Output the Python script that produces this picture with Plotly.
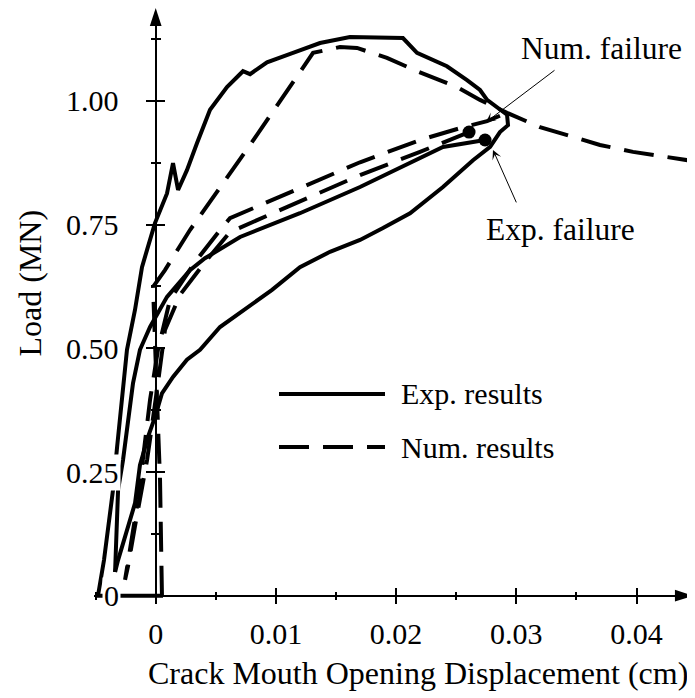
import plotly.graph_objects as go

# ---- data (CMOD in cm, load in MN) ----
# experimental: envelope, post-peak and unloading branch
exp_env_x = [0.00061, -0.00480, -0.00430, -0.00380, -0.00355, -0.00321, -0.00280, -0.00239,
             -0.00172, -0.00114, -0.00072, -0.00006, 0.00094, 0.00144, 0.00186, 0.00260,
             0.00344, 0.00452, 0.00593, 0.00726, 0.00785, 0.00926, 0.01142, 0.01367,
             0.01616, 0.01891, 0.02057, 0.02174, 0.02307, 0.02423, 0.02590, 0.02698,
             0.02757, 0.02864, 0.02923, 0.02931, 0.02864, 0.02782, 0.02640, 0.02390,
             0.02116, 0.01891, 0.01700, 0.01450, 0.01200, 0.00968, 0.00785, 0.00535,
             0.00369, 0.00260, 0.00144, 0.00052, -0.00006, -0.00064, -0.00131, -0.00172,
             -0.00313, -0.00338]
exp_env_y = [0.0, 0.0, 0.072, 0.173, 0.214, 0.301, 0.396, 0.497,
             0.578, 0.664, 0.699, 0.753, 0.813, 0.874, 0.820, 0.860,
             0.915, 0.982, 1.028, 1.060, 1.054, 1.078, 1.097, 1.117,
             1.129, 1.129, 1.127, 1.097, 1.083, 1.070, 1.042, 1.022,
             1.002, 0.982, 0.972, 0.951, 0.937, 0.907, 0.880, 0.826,
             0.773, 0.743, 0.719, 0.695, 0.664, 0.618, 0.587, 0.543,
             0.497, 0.477, 0.442, 0.409, 0.361, 0.321, 0.264, 0.187,
             0.072, 0.048]

# experimental: reloading branch up to failure
exp_rel_x = [-0.00338, -0.00313, -0.00272, -0.00239, -0.00189, -0.00131, -0.00047, 0.00094,
             0.00285, 0.00410, 0.00702, 0.01200, 0.01700, 0.02390, 0.02740]
exp_rel_y = [0.048, 0.214, 0.274, 0.335, 0.429, 0.497, 0.543, 0.604,
             0.658, 0.682, 0.725, 0.773, 0.826, 0.907, 0.921]

# numerical: monotonic curve
num_mono_x = [0.00052, 0.00044, 0.00036, 0.00011, -0.00006, -0.00022, 0.00077, 0.00285,
              0.00785, 0.01309, 0.01533, 0.01675, 0.01924, 0.02174, 0.02507, 0.02698,
              0.02923, 0.03197, 0.03505, 0.03696, 0.03971, 0.04428]
num_mono_y = [0.0, 0.115, 0.234, 0.396, 0.503, 0.624, 0.658, 0.739,
              0.911, 1.097, 1.109, 1.107, 1.087, 1.060, 1.028, 1.002,
              0.976, 0.947, 0.925, 0.911, 0.897, 0.880]

# numerical: unloading / reloading loop
num_cyc_x = [0.02864, 0.02757, 0.02532, 0.02199, 0.01700, 0.01200, 0.00726, 0.00618,
             0.00535, 0.00327, 0.00119, 0.00019, -0.00047, -0.00089, -0.00147, -0.00214,
             -0.00255, -0.00230, -0.00172, -0.00072, 0.00011, 0.00077, 0.00202, 0.00410,
             0.00618, 0.01200, 0.01700, 0.02199, 0.02607]
num_cyc_y = [0.970, 0.959, 0.945, 0.921, 0.876, 0.824, 0.773, 0.763,
             0.739, 0.674, 0.598, 0.497, 0.396, 0.315, 0.194, 0.093,
             0.032, 0.060, 0.141, 0.274, 0.416, 0.537, 0.608, 0.674,
             0.735, 0.796, 0.850, 0.897, 0.937]

num_fail = (0.02607, 0.937)
exp_fail = (0.02740, 0.921)
num_arrow_tip = (0.02748, 0.957)
exp_arrow_tip = (0.02806, 0.901)

x_ticks = [0, 0.01, 0.02, 0.03, 0.04]
x_tick_text = ["0", "0.01", "0.02", "0.03", "0.04"]
x_minor = [-0.005, 0.005, 0.015, 0.025, 0.035]
y_ticks = [0, 0.25, 0.5, 0.75, 1.0]
y_tick_text = ["0", "0.25", "0.50", "0.75", "1.00"]
y_minor = [0.125, 0.375, 0.625, 0.875, 1.125]
x_end = 0.0447
y_end = 1.1877

# ---- page geometry (window pixels; the page body adds an 8px margin) ----
OFF = 8
W, H = 695 - OFF, 698 - OFF
PX0, PX_PER_X = 155.7, 12020.0   # window pixel of x=0, pixels per cm
PY0, PY_PER_Y = 595.7, 494.8     # window pixel of y=0, pixels per MN


def xr(px):
    return (px - PX0) / PX_PER_X


def yr(py):
    return (PY0 - py) / PY_PER_Y


def fx(px):
    return (px - OFF) / W


def fy(py):
    return 1 - (py - OFF) / H


FONT = "Liberation Serif"
LW = 4
DASH = "30px,14px"

fig = go.Figure()

line_solid = dict(color="black", width=LW)
line_dash = dict(color="black", width=LW, dash=DASH)

fig.add_trace(go.Scatter(x=exp_env_x, y=exp_env_y, mode="lines", line=line_solid))
fig.add_trace(go.Scatter(x=exp_rel_x, y=exp_rel_y, mode="lines", line=line_solid))
fig.add_trace(go.Scatter(x=num_mono_x, y=num_mono_y, mode="lines", line=line_dash))
fig.add_trace(go.Scatter(x=num_cyc_x, y=num_cyc_y, mode="lines", line=line_dash))
fig.add_trace(go.Scatter(x=[num_fail[0], exp_fail[0]], y=[num_fail[1], exp_fail[1]],
                         mode="markers", marker=dict(color="black", size=13)))

# axis arrow heads
fig.add_trace(go.Scatter(x=[x_end, 0], y=[0, y_end], mode="markers", cliponaxis=False,
                         marker=dict(symbol="arrow", size=19, angle=[90, 0], color="black")))

# empty traces so the decorative axes get drawn
fig.add_trace(go.Scatter(x=[], y=[], xaxis="x2", yaxis="y2"))
fig.add_trace(go.Scatter(x=[], y=[], xaxis="x3", yaxis="y3"))

fig.update_traces(showlegend=False, hoverinfo="skip")

tick_font = dict(family=FONT, size=30, color="black")

x_dom = [fx(94), fx(690)]
y_dom = [fy(PY0), fy(12)]
x_rng = [xr(94), xr(690)]
y_rng = [0, yr(12)]

common_x = dict(domain=x_dom, range=x_rng, anchor="free", position=fy(PY0),
                tickvals=x_ticks, showgrid=False, zeroline=False, tickwidth=1.5,
                tickcolor="black", fixedrange=True)
common_y = dict(domain=y_dom, range=y_rng, anchor="free", position=fx(PX0),
                tickvals=y_ticks, showgrid=False, zeroline=False, tickwidth=1.5,
                tickcolor="black", showticklabels=False, fixedrange=True)

fig.update_layout(
    width=W, height=H,
    margin=dict(l=0, r=0, t=0, b=0, pad=0),
    paper_bgcolor="white", plot_bgcolor="rgba(0,0,0,0)",
    font=dict(family=FONT, color="black"),
    xaxis=dict(domain=[0, 1], range=[xr(OFF), xr(695)], visible=False, fixedrange=True),
    yaxis=dict(domain=[0, 1], range=[yr(698), yr(OFF)], visible=False, fixedrange=True),
    xaxis2=dict(**common_x, showline=True, linecolor="black", linewidth=1.5,
                ticks="outside", ticklen=8, ticktext=x_tick_text, tickfont=tick_font,
                ticklabelstandoff=4,
                minor=dict(tickvals=x_minor, ticks="outside", ticklen=4,
                           tickwidth=1.5, tickcolor="black")),
    xaxis3=dict(**common_x, overlaying="x2", showline=False, ticks="inside", ticklen=8,
                showticklabels=False,
                minor=dict(tickvals=x_minor, ticks="inside", ticklen=4,
                           tickwidth=1.5, tickcolor="black")),
    yaxis2=dict(**common_y, showline=True, linecolor="black", linewidth=1.5,
                ticks="outside", ticklen=9,
                minor=dict(tickvals=y_minor, ticks="outside", ticklen=4,
                           tickwidth=1.5, tickcolor="black")),
    yaxis3=dict(**common_y, overlaying="y2", showline=False, ticks="inside", ticklen=8,
                minor=dict(tickvals=y_minor, ticks="inside", ticklen=4,
                           tickwidth=1.5, tickcolor="black")),
)

annotations = []
# y tick labels with white boxes (they hide the curves behind them)
for v, t in zip(y_ticks, y_tick_text):
    annotations.append(dict(x=0, y=v, xref="x", yref="y", text=t, showarrow=False,
                            xanchor="right", yanchor="middle", xshift=-35,
                            bgcolor="white", borderpad=1, font=tick_font))

title_font = dict(family=FONT, size=32, color="black")
label_font = dict(family=FONT, size=31.5, color="black")
legend_font = dict(family=FONT, size=30, color="black")
annotations += [
    dict(x=fx(418), y=fy(673), xref="paper", yref="paper", showarrow=False,
         xanchor="center", yanchor="middle",
         text="Crack Mouth Opening Displacement (cm)", font=title_font),
    dict(x=fx(29.5), y=fy(283), xref="paper", yref="paper", showarrow=False,
         xanchor="center", yanchor="middle",
         text="Load (MN)", textangle=-90, font=title_font),
    dict(x=fx(519), y=fy(48), xref="paper", yref="paper", showarrow=False,
         xanchor="left", yanchor="middle", text="Num. failure", font=label_font),
    dict(x=fx(484), y=fy(229), xref="paper", yref="paper", showarrow=False,
         xanchor="left", yanchor="middle", text="Exp. failure", font=label_font),
    dict(x=num_arrow_tip[0], y=num_arrow_tip[1], xref="x", yref="y", text="",
         showarrow=True, ax=70, ay=-53, arrowhead=3, arrowsize=1.6, arrowwidth=1,
         arrowcolor="black"),
    dict(x=exp_arrow_tip[0], y=exp_arrow_tip[1], xref="x", yref="y", text="",
         showarrow=True, ax=24, ay=54, arrowhead=3, arrowsize=1.6, arrowwidth=1,
         arrowcolor="black"),
    dict(x=fx(399), y=fy(393), xref="paper", yref="paper", showarrow=False,
         xanchor="left", yanchor="middle", text="Exp. results", font=legend_font),
    dict(x=fx(399), y=fy(447), xref="paper", yref="paper", showarrow=False,
         xanchor="left", yanchor="middle", text="Num. results", font=legend_font),
]
fig.update_layout(annotations=annotations)

# legend keys
fig.add_shape(type="line", xref="paper", yref="paper", x0=fx(279), x1=fx(385),
              y0=fy(394), y1=fy(394), line=dict(color="black", width=LW))
fig.add_shape(type="line", xref="paper", yref="paper", x0=fx(279), x1=fx(385),
              y0=fy(447), y1=fy(447), line=dict(color="black", width=LW, dash=DASH))

fig.write_html("out.html")
